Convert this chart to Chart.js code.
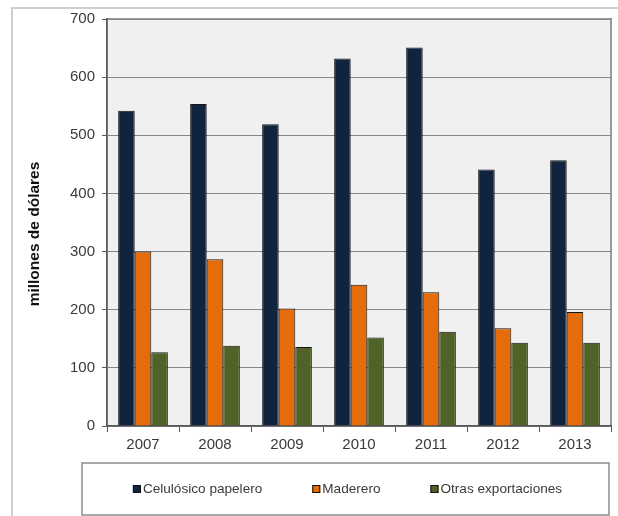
<!DOCTYPE html>
<html>
<head>
<meta charset="utf-8">
<script src="https://cdn.jsdelivr.net/npm/chart.js@4.4.0/dist/chart.umd.min.js"></script>
<style>
	html, body { margin: 0; padding: 0; background: #fff; }
	#wrap { position: relative; width: 618px; height: 516px; overflow: hidden; }
	#frame {
		position: absolute; left: 11px; top: 7px; width: 620px; height: 520px;
		border-left: 2px solid #cfcfcf; border-top: 2px solid #cfcfcf;
	}
	#chart { position: absolute; left: 0; top: 0; }
</style>
</head>
<body>
<div id="wrap">
	<div id="frame"></div>
	<canvas id="chart" width="618" height="516"></canvas>
</div>
<script>
// Exportaciones por sector, millones de dólares
const years = ['2007', '2008', '2009', '2010', '2011', '2012', '2013'];
const celulosico = [542, 554, 519, 632, 651, 441, 457];
const maderero = [300, 287, 202, 243, 230, 168, 196];
const otras = [127, 138, 136, 152, 162, 143, 143];

const seriesNames = ['Celulósico papelero', 'Maderero', 'Otras exportaciones'];
const seriesColors = ['#10243e', '#e46c0a', '#4f6228'];

const FONT = '"Liberation Sans", Arial, sans-serif';

// gray plot background plus the outer plot frame
const plotBackground = {
	id: 'plotBackground',
	beforeDraw(chart) {
		const { ctx, chartArea: a } = chart;
		ctx.save();
		ctx.fillStyle = '#f0f0f0';
		ctx.fillRect(a.left, a.top, a.right - a.left, a.bottom - a.top);
		ctx.strokeStyle = '#9a9a9a';
		ctx.lineWidth = 2;
		ctx.strokeRect(a.left, a.top, a.right - a.left, a.bottom - a.top);
		ctx.restore();
	},
};

// rotated axis caption, a bit below the plot middle
const axisCaption = {
	id: 'axisCaption',
	afterDraw(chart) {
		const { ctx } = chart;
		ctx.save();
		ctx.translate(35, 234);
		ctx.rotate(-Math.PI / 2);
		ctx.font = 'bold 15.5px ' + FONT;
		ctx.fillStyle = '#111';
		ctx.textAlign = 'center';
		ctx.textBaseline = 'middle';
		ctx.fillText('millones de dólares', 0, 0);
		ctx.restore();
	},
};

// boxed legend under the axis
const boxedLegend = {
	id: 'boxedLegend',
	afterDraw(chart) {
		const { ctx } = chart;
		const box = { left: 82, top: 463, right: 609, bottom: 515 };
		ctx.save();
		ctx.strokeStyle = '#8c8c8c';
		ctx.lineWidth = 1.5;
		ctx.strokeRect(box.left, box.top, box.right - box.left, box.bottom - box.top);

		ctx.font = '13.6px ' + FONT;
		ctx.textBaseline = 'middle';
		const gap = 50;
		const items = chart.data.datasets.map((ds) => ({
			label: ds.label,
			color: ds.backgroundColor,
			width: 10 + ctx.measureText(ds.label).width,
		}));
		const total = items.reduce((s, it) => s + it.width, 0) + gap * (items.length - 1);
		let x = 347.5 - total / 2;
		const y = 489;
		items.forEach((it) => {
			ctx.fillStyle = it.color;
			ctx.fillRect(x, y - 4, 8, 8);
			ctx.strokeStyle = '#111';
			ctx.lineWidth = 1;
			ctx.strokeRect(x + 0.5, y - 3.5, 7, 7);
			ctx.fillStyle = '#3a3a3a';
			ctx.fillText(it.label, x + 10, y);
			x += it.width + gap;
		});
		ctx.restore();
	},
};

const seriesData = [celulosico, maderero, otras];

new Chart(document.getElementById('chart'), {
	type: 'bar',
	data: {
		labels: years,
		datasets: seriesData.map((values, i) => ({
			label: seriesNames[i],
			data: values,
			backgroundColor: seriesColors[i],
			borderColor: '#151515',
			borderWidth: 1,
			categoryPercentage: 0.69,
			barPercentage: 1.0,
		})),
	},
	options: {
		responsive: false,
		animation: false,
		layout: { padding: { top: 19, right: 7, bottom: 53, left: 0 } },
		plugins: {
			legend: { display: false },
			tooltip: { enabled: false },
		},
		scales: {
			x: {
				offset: true,
				grid: {
					offset: true,
					drawOnChartArea: false,
					tickLength: 6,
					color: '#555',
				},
				border: { color: '#555', width: 1.5 },
				ticks: {
					color: '#3a3a3a',
					padding: 4,
					font: { family: FONT, size: 15 },
				},
				afterFit(scale) {
					scale.height = 37;
				},
			},
			y: {
				min: 0,
				max: 700,
				ticks: {
					stepSize: 100,
					color: '#3a3a3a',
					padding: 7,
					font: { family: FONT, size: 15 },
				},
				grid: {
					color: '#878787',
					lineWidth: 1,
					tickLength: 5,
					tickColor: '#555',
				},
				border: { color: '#555', width: 1.5 },
				afterFit(scale) {
					scale.width = 107;
				},
			},
		},
	},
	plugins: [plotBackground, axisCaption, boxedLegend],
});
</script>
</body>
</html>
